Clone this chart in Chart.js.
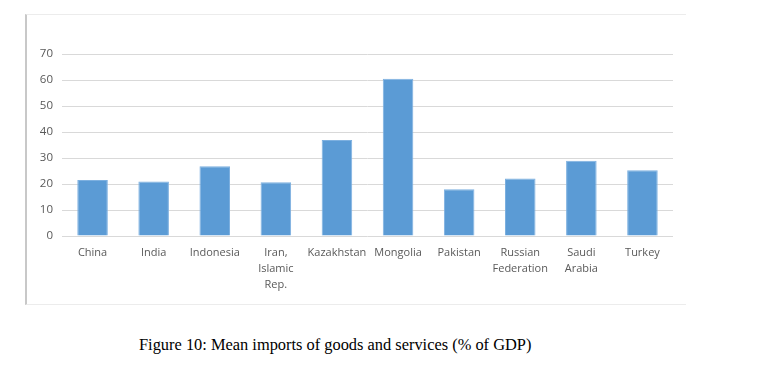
<!DOCTYPE html>
<html>
<head>
<meta charset="utf-8">
<script src="https://cdn.jsdelivr.net/npm/chart.js@4/dist/chart.umd.min.js"></script>
<style>
  html, body { margin: 0; padding: 0; background: #fff; width: 760px; height: 374px; overflow: hidden; }
  #frame { position: absolute; left: 25px; top: 14px; width: 661px; height: 291px;
           border-left: 2px solid #c8c8c8; border-top: 1px solid #ececec; border-bottom: 1px solid #ececec; box-sizing: border-box; }
  #c { position: absolute; left: 25px; top: 14px; }
  #caption { position: absolute; left: 139px; top: 335px; font-family: "Liberation Serif", "Times New Roman", serif;
             font-size: 16.4px; color: #000; white-space: nowrap; }
</style>
</head>
<body>
<div id="frame"></div>
<canvas id="c" width="661" height="291"></canvas>
<div id="caption">Figure 10: Mean imports of goods and services (% of GDP)</div>
<script>
const categories = ["China", "India", "Indonesia", ["Iran,", "Islamic", "Rep."], "Kazakhstan", "Mongolia", "Pakistan", ["Russian", "Federation"], ["Saudi", "Arabia"], "Turkey"];
const importsPctGdp = [21.5, 21.0, 26.8, 20.7, 36.9, 60.5, 18.0, 22.1, 28.9, 25.3];
const yTicks = [0, 10, 20, 30, 40, 50, 60, 70];

new Chart(document.getElementById('c'), {
  type: 'bar',
  data: {
    labels: categories,
    datasets: [{
      data: importsPctGdp,
      backgroundColor: '#5b9bd5',
      borderColor: '#7db0e0',
      borderWidth: 1,
      categoryPercentage: 1.0,
      barPercentage: 0.5
    }]
  },
  options: {
    responsive: false,
    animation: false,
    devicePixelRatio: 1,
    layout: { padding: { left: 0, right: 13, top: 40, bottom: 0 } },
    plugins: { legend: { display: false }, tooltip: { enabled: false }, title: { display: false } },
    scales: {
      x: {
        grid: { display: false, drawTicks: false },
        border: { display: false },
        ticks: { color: '#595959', font: { family: '"Open Sans", sans-serif', size: 11, lineHeight: 1.42 }, padding: 9.5, maxRotation: 0, autoSkip: false },
        afterFit: s => { s.height = 69; }
      },
      y: {
        min: 0, max: 70,
        afterBuildTicks: s => { s.ticks = yTicks.map(v => ({ value: v })); },
        grid: { color: '#d9d9d9', lineWidth: 1, drawTicks: false },
        border: { display: false },
        ticks: { color: '#595959', font: { family: '"Open Sans", sans-serif', size: 11.5 }, padding: 9 },
        afterFit: s => { s.width = 37; }
      }
    }
  }
});
</script>
</body>
</html>
